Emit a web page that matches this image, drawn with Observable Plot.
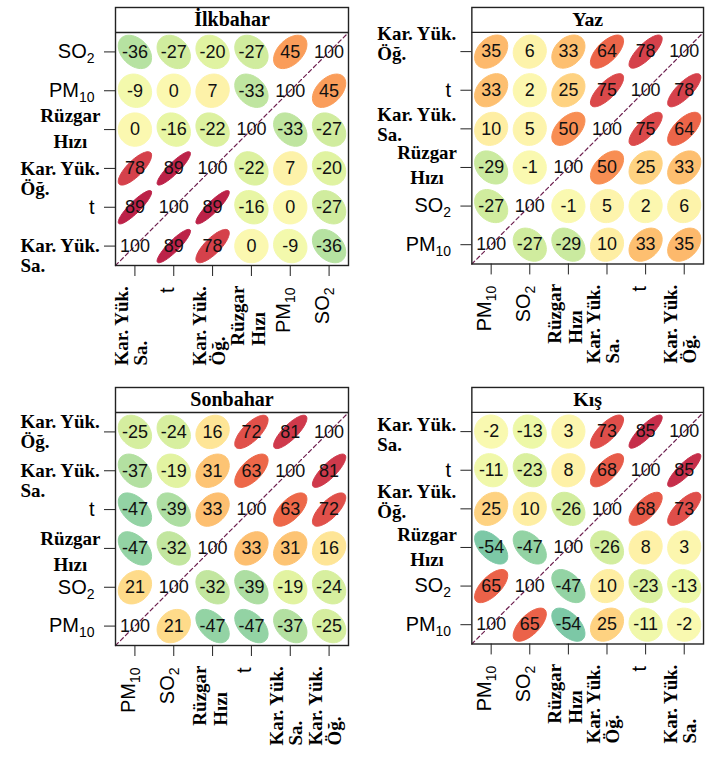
<!DOCTYPE html>
<html><head><meta charset="utf-8">
<script src="https://cdn.jsdelivr.net/npm/d3@7"></script>
<script src="https://cdn.jsdelivr.net/npm/@observablehq/plot@0.6"></script>
<style>
body{margin:0;background:#fff;}
#wrap{position:relative;width:710px;height:758px;background:#fff;overflow:hidden;}
.panel{position:absolute;}
</style></head><body><div id="wrap"></div>
<script>
// ---------- data ----------
const titles = ["İlkbahar", "Yaz", "Sonbahar", "Kış"];
const varLabels = {KS: "Kar. Yük.\nSa.", T: "t", KO: "Kar. Yük.\nÖğ.", RH: "Rüzgar\nHızı", PM: "PM10", SO: "SO2"};
// variable order (left→right on x, bottom→top on y)
const orderIlkbahar = ["KS", "T", "KO", "RH", "PM", "SO"];
const orderYaz      = ["PM", "SO", "RH", "KS", "T", "KO"];
const orderSonbahar = ["PM", "SO", "RH", "T", "KS", "KO"];
const orderKis      = ["PM", "SO", "RH", "KO", "T", "KS"];
// correlations ×100, rows as printed top→bottom, columns left→right
const corrIlkbahar = [
  [-36, -27, -20, -27,  45, 100],
  [ -9,   0,   7, -33, 100,  45],
  [  0, -16, -22, 100, -33, -27],
  [ 78,  89, 100, -22,   7, -20],
  [ 89, 100,  89, -16,   0, -27],
  [100,  89,  78,   0,  -9, -36]];
const corrYaz = [
  [ 35,   6,  33,  64,  78, 100],
  [ 33,   2,  25,  75, 100,  78],
  [ 10,   5,  50, 100,  75,  64],
  [-29,  -1, 100,  50,  25,  33],
  [-27, 100,  -1,   5,   2,   6],
  [100, -27, -29,  10,  33,  35]];
const corrSonbahar = [
  [-25, -24,  16,  72,  81, 100],
  [-37, -19,  31,  63, 100,  81],
  [-47, -39,  33, 100,  63,  72],
  [-47, -32, 100,  33,  31,  16],
  [ 21, 100, -32, -39, -19, -24],
  [100,  21, -47, -47, -37, -25]];
const corrKis = [
  [ -2, -13,   3,  73,  85, 100],
  [-11, -23,   8,  68, 100,  85],
  [ 25,  10, -26, 100,  68,  73],
  [-54, -47, 100, -26,   8,   3],
  [ 65, 100, -47,  10, -23, -13],
  [100,  65, -54,  25, -11,  -2]];

// ---------- style / layout ----------
const SERIF = "'Liberation Serif','Times New Roman',serif";
const SANS = "'Liberation Sans',Arial,sans-serif";
const labelStyle = {
  KS: {font: "serif", yAlign: "start", lh: 20, xFirst: -7, xlh: 19},
  KO: {font: "serif", yAlign: "start", lh: 20, xFirst: -7, xlh: 19},
  RH: {font: "serif", yAlign: "middle", lh: 26, xFirst: -7, xlh: 21},
  T:  {font: "sans"}, PM: {font: "sans"}, SO: {font: "sans"}
};
// vertical pixel offset of the first line of two-line y labels, per panel
const yFirstLineShift = [
  {RH: -14, KO: 0, KS: 0},
  {KO: -18, KS: -14, RH: -15},
  {KO: -10, KS: 0, RH: -10},
  {KS: -7, KO: -17, RH: -13}
];
const W = 355, H = 378, ML = 115, MR = 7, MT = 7, MB = 113, STRIP = 25, TICK = 11;
const ctx = document.createElement("canvas").getContext("2d");
function textWidth(s, font) { ctx.font = font; return ctx.measureText(s).width; }

function ellipsePoints(r, cx, cy, id, v) {
  const d = Math.acos(Math.max(-1, Math.min(1, r)));
  const s = 0.2 * Math.sqrt(-2 * Math.log(1 - 0.9));
  const pts = [];
  for (let k = 0; k < 60; k++) {
    const a = 2 * Math.PI * k / 60;
    pts.push({id, v, x: cx + s * Math.cos(a + d / 2), y: cy + s * Math.cos(a - d / 2)});
  }
  return pts;
}

function panel(pi, title, order, corr) {
  const n = order.length;
  const unit = (W - ML - MR) / n;
  const stripU = STRIP / unit;
  const cells = [];
  corr.forEach((row, ri) => row.forEach((v, ci) => cells.push({x: ci + 1, y: n - ri, v})));
  const ell = [];
  cells.forEach((c, k) => { if (c.x !== c.y) ell.push(...ellipsePoints(c.v / 100, c.x, c.y, k, c.v)); });
  const idx = d3.range(1, n + 1);
  const marks = [
    Plot.line(ell, {x: "x", y: "y", z: "id", fill: "v", stroke: "v", strokeWidth: 1, curve: "linear-closed"}),
    Plot.line([0.5, n + 0.5], {x: d => d, y: d => d, stroke: "#6d1f4f", strokeWidth: 1.2, strokeDasharray: "4,3"}),
    Plot.text(cells, {x: "x", y: "y", text: d => String(d.v), fontSize: 18, fill: "#111", fontFamily: SANS}),
    Plot.ruleY([n + 0.5], {stroke: "#222", strokeWidth: 1.3}),
    Plot.frame({stroke: "#222", strokeWidth: 1.4}),
    Plot.text([title], {frameAnchor: "top", lineAnchor: "middle", dy: STRIP / 2, text: d => d, fontSize: 20, fontWeight: "bold", fontFamily: SERIF, fill: "black"})
  ];
  order.forEach((key, j) => {
    const lines = varLabels[key].split("\n");
    const st = labelStyle[key];
    if (st.font === "sans") {
      marks.push(Plot.text([j + 1], {y: d => d, frameAnchor: "left", text: () => lines[0], textAnchor: "end", dx: -(TICK + 10), fontSize: 20, fontFamily: SANS, fill: "black"}));
      marks.push(Plot.text([j + 1], {x: d => d, frameAnchor: "bottom", rotate: -90, text: () => lines[0], textAnchor: "end", dy: TICK + 11, fontSize: 20, fontFamily: SANS, fill: "black"}));
    } else {
      const font = `bold 19px ${SERIF}`;
      const Wd = Math.max(...lines.map(l => textWidth(l, font)));
      const first = yFirstLineShift[pi][key];
      lines.forEach((line, k) => {
        const offY = first + k * st.lh;
        const offX = st.xFirst + k * st.xlh;
        const dxY = st.yAlign === "start" ? -(TICK + 4 + Wd) : -(TICK + 4 + Wd / 2);
        marks.push(Plot.text([j + 1], {y: d => d, frameAnchor: "left", text: () => line, textAnchor: st.yAlign, dx: dxY, dy: offY, fontSize: 19, fontWeight: "bold", fontFamily: SERIF, fill: "black"}));
        marks.push(Plot.text([j + 1], {x: d => d, frameAnchor: "bottom", rotate: -90, text: () => line, textAnchor: "start", dx: offX, dy: TICK + 9 + Wd, fontSize: 19, fontWeight: "bold", fontFamily: SERIF, fill: "black"}));
      });
    }
  });
  const svg = Plot.plot({
    width: W, height: H, marginLeft: ML, marginRight: MR, marginTop: MT, marginBottom: MB,
    x: {domain: [0.5, n + 0.5], ticks: idx, tickSize: TICK, tickFormat: () => "", label: null},
    y: {domain: [0.5, n + 0.5 + stripU], ticks: idx, tickSize: TICK, tickFormat: () => "", label: null},
    color: {type: "linear", scheme: "spectral", reverse: true, domain: [-100, 100]},
    style: {fontFamily: SANS, background: "white", color: "#222", overflow: "visible"},
    marks
  });
  // subscripts for PM10 / SO2
  d3.select(svg).selectAll("text").each(function() {
    const t = this.textContent;
    const m = /^(PM|SO)(\d+)$/.exec(t);
    if (m && this.childElementCount === 0) {
      const sel = d3.select(this);
      sel.text(null);
      sel.append("tspan").text(m[1]);
      sel.append("tspan").attr("font-size", 14).attr("dy", "0.35em").text(m[2]);
    }
  });
  return svg;
}

const wrap = document.getElementById("wrap");
const specs = [
  [titles[0], orderIlkbahar, corrIlkbahar, 0, 0],
  [titles[1], orderYaz, corrYaz, 357, 0],
  [titles[2], orderSonbahar, corrSonbahar, 0, 380],
  [titles[3], orderKis, corrKis, 357, 380]
];
specs.forEach(([t, o, c, left, top], pi) => {
  const div = document.createElement("div");
  div.className = "panel";
  div.style.left = left + "px";
  div.style.top = top + "px";
  div.appendChild(panel(pi, t, o, c));
  wrap.appendChild(div);
});
</script>
</body></html>
